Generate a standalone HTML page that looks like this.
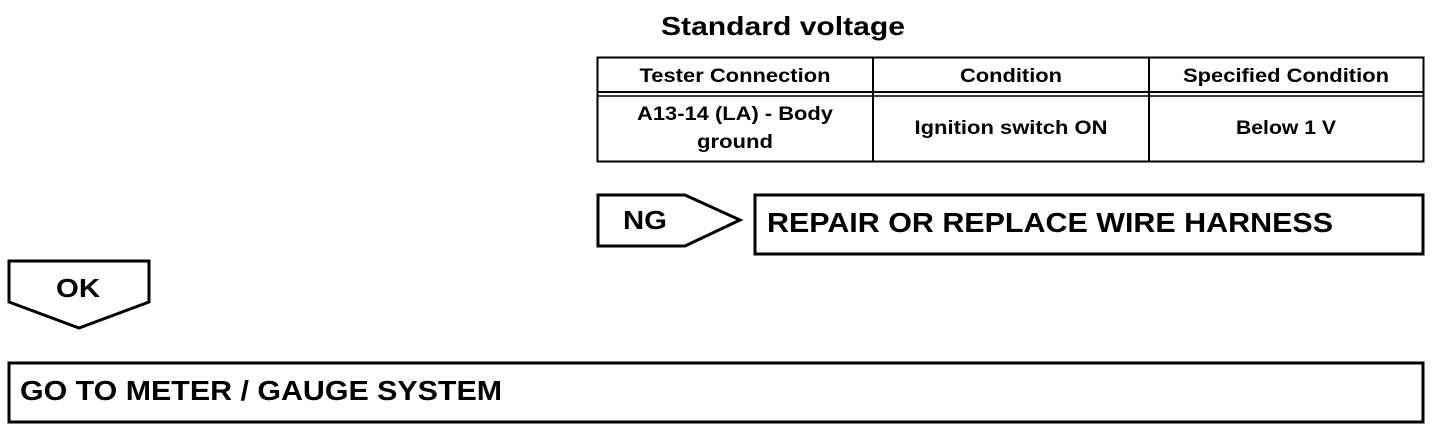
<!DOCTYPE html>
<html><head><style>
body{margin:0;background:#fff;width:1456px;height:434px;overflow:hidden;position:relative;font-family:"Liberation Sans",Arial,sans-serif;font-weight:bold;color:#000}
.a{position:absolute}
</style></head><body>
<svg class="a" style="left:0;top:0" width="1456" height="434">
<g fill="none" stroke="#000">
<rect x="597.5" y="57.5" width="826" height="104" stroke-width="2"/>
<line x1="873" y1="57" x2="873" y2="162" stroke-width="2"/>
<line x1="1149" y1="57" x2="1149" y2="162" stroke-width="2"/>
<line x1="597" y1="92" x2="1424" y2="92" stroke-width="2"/>
<line x1="597" y1="96" x2="1424" y2="96" stroke-width="1.5"/>
<polygon points="598,195 685,195 740,220 685,246 598,246" stroke-width="3"/>
<rect x="755" y="195" width="668" height="59" stroke-width="3"/>
<polygon points="9,261 149,261 149,302 79,328 9,302" stroke-width="3"/>
<rect x="9" y="363" width="1414" height="59" stroke-width="3"/>
</g>
<g font-family="Liberation Sans,Arial,sans-serif" font-weight="bold" text-anchor="middle" lengthAdjust="spacingAndGlyphs">
<text x="783" y="35" font-size="26" textLength="244" lengthAdjust="spacingAndGlyphs">Standard voltage</text>
<text x="735" y="82" font-size="19" textLength="191" lengthAdjust="spacingAndGlyphs">Tester Connection</text>
<text x="1011" y="82" font-size="19" textLength="102" lengthAdjust="spacingAndGlyphs">Condition</text>
<text x="1286" y="82" font-size="19" textLength="206" lengthAdjust="spacingAndGlyphs">Specified Condition</text>
<text x="735" y="120" font-size="19" textLength="196" lengthAdjust="spacingAndGlyphs">A13-14 (LA) - Body</text>
<text x="735" y="148" font-size="19" textLength="76" lengthAdjust="spacingAndGlyphs">ground</text>
<text x="1011" y="134" font-size="19" textLength="193" lengthAdjust="spacingAndGlyphs">Ignition switch ON</text>
<text x="1286" y="134" font-size="19" textLength="100" lengthAdjust="spacingAndGlyphs">Below 1 V</text>
<text x="645" y="229" font-size="26" textLength="44" lengthAdjust="spacingAndGlyphs">NG</text>
<text x="78" y="297" font-size="26" textLength="44" lengthAdjust="spacingAndGlyphs">OK</text>
</g>
<g font-family="Liberation Sans,Arial,sans-serif" font-weight="bold" font-size="28">
<text x="767" y="232" textLength="566" lengthAdjust="spacingAndGlyphs">REPAIR OR REPLACE WIRE HARNESS</text>
<text x="20" y="400" textLength="482" lengthAdjust="spacingAndGlyphs">GO TO METER / GAUGE SYSTEM</text>
</g>
</svg>
</body></html>
